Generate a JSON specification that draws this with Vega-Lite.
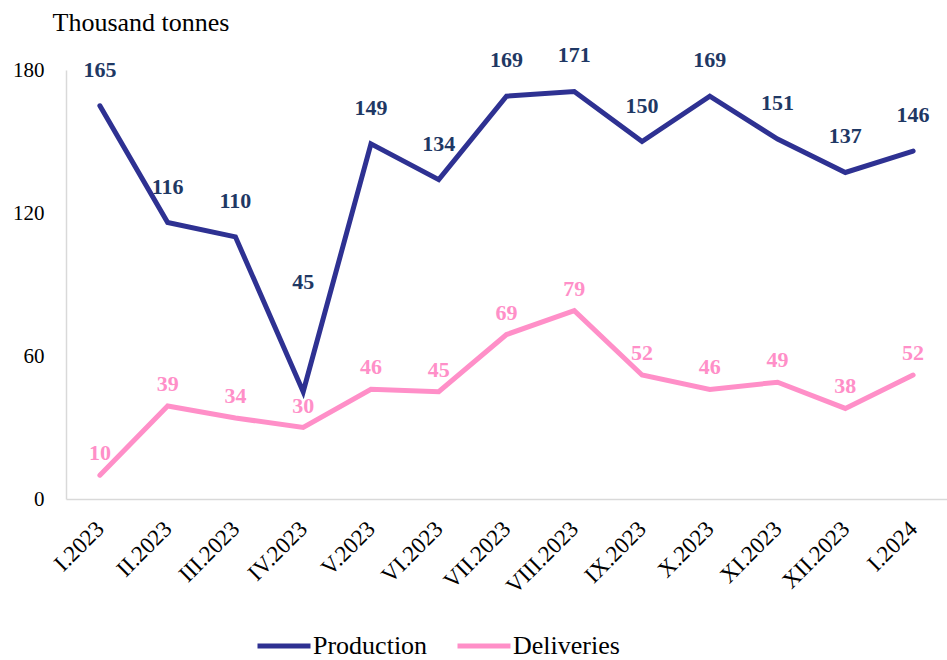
{
  "$schema": "https://vega.github.io/schema/vega-lite/v6.json",
  "width": 881,
  "height": 429,
  "autosize": {"type": "none"},
  "padding": {"left": 66, "top": 70, "right": 0, "bottom": 161},
  "background": "white",
  "config": {
    "view": {"stroke": null},
    "font": "Liberation Serif"
  },
  "data": {
    "values": [
      {"month": "I.2023", "series": "Production", "value": 165},
      {"month": "II.2023", "series": "Production", "value": 116},
      {"month": "III.2023", "series": "Production", "value": 110},
      {"month": "IV.2023", "series": "Production", "value": 45},
      {"month": "V.2023", "series": "Production", "value": 149},
      {"month": "VI.2023", "series": "Production", "value": 134},
      {"month": "VII.2023", "series": "Production", "value": 169},
      {"month": "VIII.2023", "series": "Production", "value": 171},
      {"month": "IX.2023", "series": "Production", "value": 150},
      {"month": "X.2023", "series": "Production", "value": 169},
      {"month": "XI.2023", "series": "Production", "value": 151},
      {"month": "XII.2023", "series": "Production", "value": 137},
      {"month": "I.2024", "series": "Production", "value": 146},
      {"month": "I.2023", "series": "Deliveries", "value": 10},
      {"month": "II.2023", "series": "Deliveries", "value": 39},
      {"month": "III.2023", "series": "Deliveries", "value": 34},
      {"month": "IV.2023", "series": "Deliveries", "value": 30},
      {"month": "V.2023", "series": "Deliveries", "value": 46},
      {"month": "VI.2023", "series": "Deliveries", "value": 45},
      {"month": "VII.2023", "series": "Deliveries", "value": 69},
      {"month": "VIII.2023", "series": "Deliveries", "value": 79},
      {"month": "IX.2023", "series": "Deliveries", "value": 52},
      {"month": "X.2023", "series": "Deliveries", "value": 46},
      {"month": "XI.2023", "series": "Deliveries", "value": 49},
      {"month": "XII.2023", "series": "Deliveries", "value": 38},
      {"month": "I.2024", "series": "Deliveries", "value": 52}
    ]
  },
  "encoding": {
    "x": {
      "field": "month",
      "type": "ordinal",
      "sort": null,
      "scale": {"type": "point", "padding": 0.5},
      "axis": {
        "title": null,
        "labelAngle": -45,
        "labelAlign": "right",
        "labelBaseline": "middle",
        "labelPadding": 26,
        "labelFontSize": 23,
        "labelColor": "#000000",
        "ticks": false,
        "domainColor": "#D9D9D9",
        "domainWidth": 1.5,
        "grid": false
      }
    },
    "y": {
      "field": "value",
      "type": "quantitative",
      "scale": {"domain": [0, 180], "nice": false},
      "axis": {
        "title": "Thousand tonnes",
        "titleAngle": 0,
        "titleX": -14,
        "titleY": -48,
        "titleAlign": "left",
        "titleBaseline": "middle",
        "titleFontSize": 26,
        "titleFontWeight": "normal",
        "titleColor": "#000000",
        "values": [0, 60, 120, 180],
        "labelFontSize": 21,
        "labelColor": "#000000",
        "labelPadding": 22,
        "ticks": false,
        "grid": false,
        "domainColor": "#D9D9D9",
        "domainWidth": 1.5
      }
    }
  },
  "layer": [
    {
      "mark": {"type": "line", "strokeWidth": 5, "strokeCap": "round", "strokeJoin": "miter"},
      "encoding": {
        "color": {
          "field": "series",
          "type": "nominal",
          "scale": {"domain": ["Production", "Deliveries"], "range": ["#2E3192", "#FF8FC8"]},
          "legend": {
            "title": null,
            "orient": "none",
            "direction": "horizontal",
            "legendX": 189,
            "legendY": 547,
            "symbolType": "stroke",
            "symbolSize": 2809,
            "symbolStrokeWidth": 5,
            "labelFontSize": 26,
            "labelColor": "#000000",
            "labelOffset": 0,
            "columnPadding": 19,
            "labelLimit": 300
          }
        }
      }
    },
    {
      "transform": [{"filter": "datum.series === 'Production'"}],
      "mark": {"type": "text", "dy": {"expr": "datum.value < 60 ? -110 : -36"}, "fontSize": 22, "fontWeight": "bold", "color": "#1F3864", "baseline": "middle"},
      "encoding": {"text": {"field": "value", "type": "quantitative"}}
    },
    {
      "transform": [{"filter": "datum.series === 'Deliveries'"}],
      "mark": {"type": "text", "dy": -22, "fontSize": 22, "fontWeight": "bold", "color": "#FF8FC8", "baseline": "middle"},
      "encoding": {"text": {"field": "value", "type": "quantitative"}}
    }
  ]
}
